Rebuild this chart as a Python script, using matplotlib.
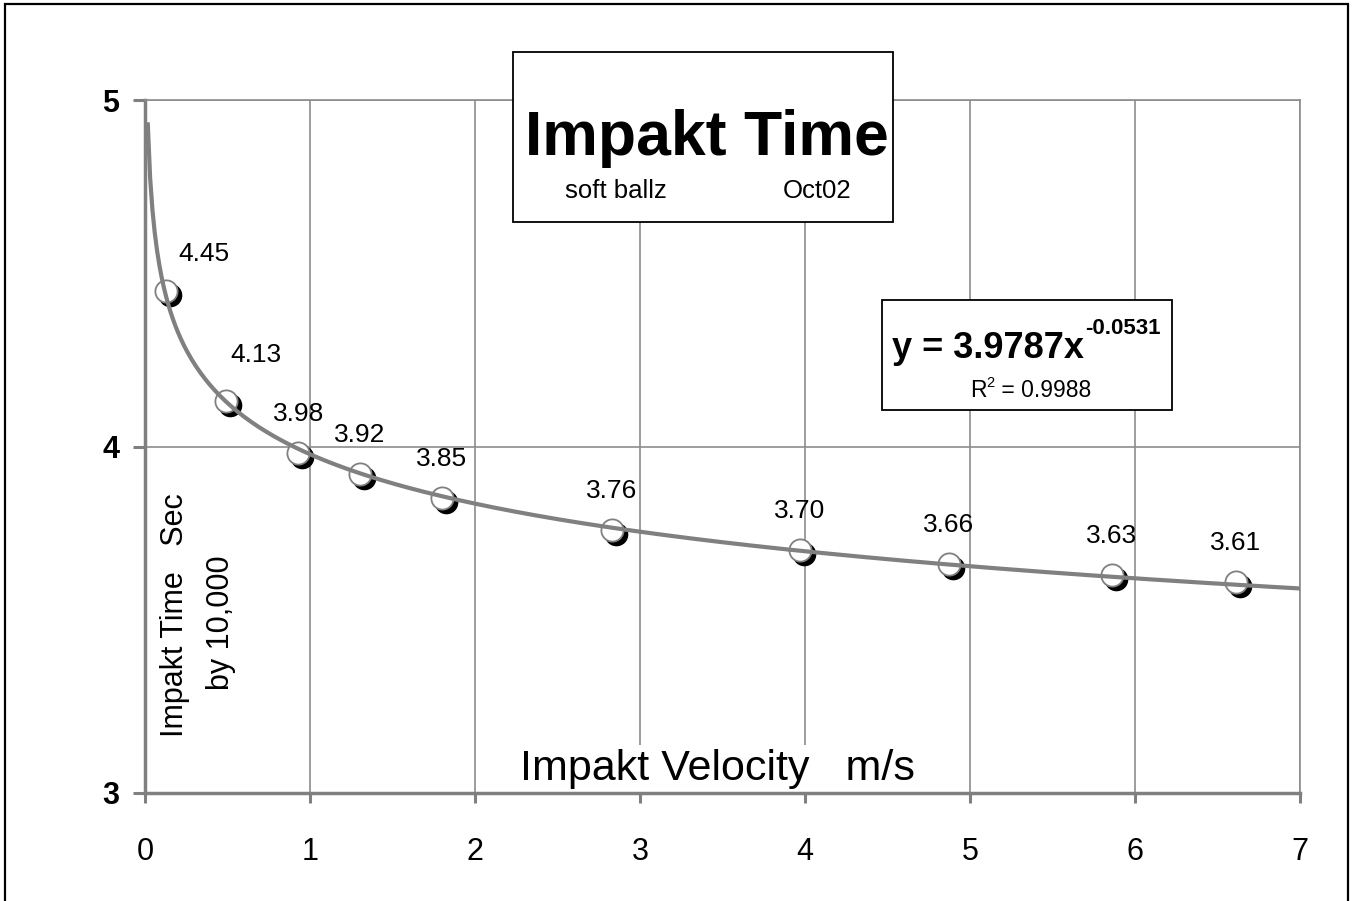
import numpy as np
import matplotlib.pyplot as plt
from matplotlib.patches import Rectangle
from matplotlib.transforms import offset_copy

plt.rcParams['font.family'] = ['Liberation Sans', 'DejaVu Sans']

# values
velocity = [0.125, 0.49, 0.93, 1.30, 1.80, 2.83, 3.97, 4.87, 5.86, 6.61]
impact_time = [4.45, 4.13, 3.98, 3.92, 3.85, 3.76, 3.70, 3.66, 3.63, 3.61]
point_labels = ['4.45', '4.13', '3.98', '3.92', '3.85', '3.76', '3.70', '3.66', '3.63', '3.61']
x_ticks = [0, 1, 2, 3, 4, 5, 6, 7]
y_ticks = [3, 4, 5]

W, H = 1352, 901
GRAY = '#808080'


def fx(px):
    return px / W


def fy(py):
    return 1 - py / H


fig = plt.figure(figsize=(W / 100, H / 100), dpi=100)
ax = fig.add_axes([fx(145), fy(793), 1155 / W, 693 / H])

# power trendline fitted to the points (same as the spreadsheet does)
b, log_a = np.polyfit(np.log(velocity), np.log(impact_time), 1)
xs = np.linspace(0.017, 7, 500)
ax.plot(xs, np.exp(log_a) * xs ** b, color=GRAY, lw=3, zorder=3)

# markers: black shadow then white ball
shadow = offset_copy(ax.transData, fig=fig, x=4, y=-4, units='dots')
ax.plot(velocity, impact_time, 'o', ms=16, color='black', mec='black',
        transform=shadow, zorder=2)
ax.plot(velocity, impact_time, 'o', ms=16, color='white', mec=GRAY, mew=1.3,
        zorder=2.1)

# value labels
label_offsets = [(38, 37), (30, 46)] + [(0, 39)] * 8
for x, y, txt, off in zip(velocity, impact_time, point_labels, label_offsets):
    ax.annotate(txt, (x, y), xytext=off, textcoords='offset pixels',
                ha='center', va='center', fontsize=19, zorder=4)

ax.set_xlim(0, 7)
ax.set_ylim(3, 5)
ax.set_xticks(x_ticks)
ax.set_yticks(y_ticks)
ax.set_xticklabels([str(t) for t in x_ticks], fontsize=22)
ax.set_yticklabels([str(t) for t in y_ticks], fontsize=22, fontweight='bold')
ax.tick_params(axis='x', length=7, width=2.2, color=GRAY, pad=25)
ax.tick_params(axis='y', length=8.5, width=2.2, color=GRAY, pad=10)

ax.set_axisbelow(True)
ax.grid(True, color='#8c8c8c', lw=1.2)
for s in ['left', 'bottom']:
    ax.spines[s].set_color(GRAY)
    ax.spines[s].set_linewidth(2.5)
for s in ['top', 'right']:
    ax.spines[s].set_color('#8c8c8c')
    ax.spines[s].set_linewidth(1.2)

# axis titles inside the plot
ax.text(fx(717), fy(780), 'Impakt Velocity   m/s', transform=fig.transFigure,
        ha='center', va='baseline', fontsize=31, zorder=1,
        bbox=dict(facecolor='white', edgecolor='none', pad=3))
ax.text(fx(175), fy(615), 'Impakt Time   Sec', transform=fig.transFigure,
        ha='center', va='center', rotation=90, fontsize=22, zorder=1)
ax.text(fx(221), fy(623), 'by 10,000', transform=fig.transFigure,
        ha='center', va='center', rotation=90, fontsize=22, zorder=1)

# title box
ax.add_patch(Rectangle((fx(513), fy(222)), fx(893) - fx(513), fy(52) - fy(222),
                       transform=fig.transFigure, facecolor='white', edgecolor='black',
                       lw=1.3, clip_on=False, zorder=5))
ax.text(fx(707), fy(155), 'Impakt Time', transform=fig.transFigure, ha='center',
        va='baseline', fontsize=45, fontweight='bold', zorder=6)
ax.text(fx(616), fy(198), 'soft ballz', transform=fig.transFigure, ha='center',
        va='baseline', fontsize=18.5, zorder=6)
ax.text(fx(817), fy(198), 'Oct02', transform=fig.transFigure, ha='center',
        va='baseline', fontsize=18.5, zorder=6)

# trendline equation box
ax.add_patch(Rectangle((fx(882), fy(410)), fx(1172) - fx(882), fy(300) - fy(410),
                       transform=fig.transFigure, facecolor='white', edgecolor='black',
                       lw=1.3, clip_on=False, zorder=5))
eq = ax.text(fx(892), fy(358), 'y = 3.9787x', transform=fig.transFigure, ha='left',
             va='baseline', fontsize=26, fontweight='bold', zorder=6)
renderer = fig.canvas.get_renderer()
ex = eq.get_window_extent(renderer).x1
ax.text(ex / W + fx(1), fy(334), '-0.0531', transform=fig.transFigure, ha='left',
        va='baseline', fontsize=16, fontweight='bold', zorder=6)
r2 = ax.text(fx(970), fy(397), 'R', transform=fig.transFigure, ha='left',
             va='baseline', fontsize=16.5, zorder=6)
rx = r2.get_window_extent(renderer).x1
sq = ax.text(rx / W, fy(387), '2', transform=fig.transFigure, ha='left',
             va='baseline', fontsize=10.5, zorder=6)
sx = sq.get_window_extent(renderer).x1
ax.text(sx / W, fy(397), ' = 0.9988', transform=fig.transFigure, ha='left',
        va='baseline', fontsize=16.5, zorder=6)

# outer chart border
fig.add_artist(Rectangle((fx(5), fy(910)), fx(1348) - fx(5), fy(4) - fy(910),
                         transform=fig.transFigure, facecolor='none',
                         edgecolor='black', lw=1.6))

fig.savefig('out.png', dpi=100)
